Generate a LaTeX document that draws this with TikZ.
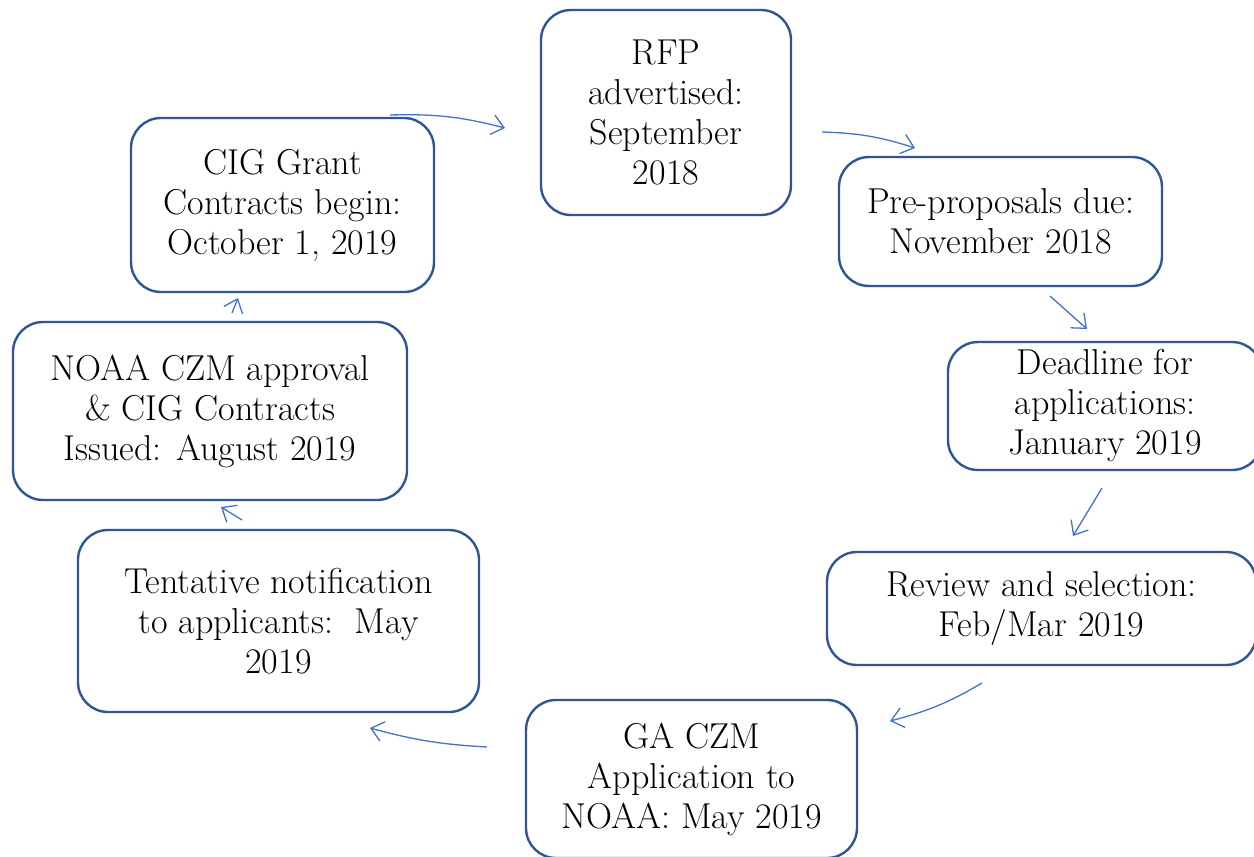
\documentclass[tikz,border=0pt]{standalone}
\usepackage{fontspec}
\usetikzlibrary{arrows.meta}
\definecolor{boxblue}{HTML}{2F5597}
\definecolor{arrblue}{HTML}{4472C4}
\tikzset{
  stagebox/.style={draw=boxblue, line width=2.4pt, rounded corners=30pt, align=center,
    font=\fontsize{36}{40}\selectfont, inner sep=0pt},
  flow/.style={draw=arrblue, line width=1.3pt, -{Straight Barb[length=12pt,width=20pt,line width=1.3pt]}}
}
\begin{document}
\begin{tikzpicture}[x=1pt,y=-1pt]
\useasboundingbox (0,0) rectangle (1254,857);
\node[stagebox, minimum width=250pt, minimum height=205pt] (rfp) at (666,112.5) {RFP\\advertised:\\September\\2018};
\node[stagebox, minimum width=323pt, minimum height=129pt] (pre) at (1000.5,221.5) {Pre-proposals due:\\November 2018};
\node[stagebox, minimum width=314pt, minimum height=128pt] (dead) at (1105,406) {Deadline for\\applications:\\January 2019};
\node[stagebox, minimum width=429pt, minimum height=113pt] (rev) at (1041.5,608.5) {Review and selection:\\Feb/Mar 2019};
\node[stagebox, minimum width=331pt, minimum height=158pt] (ga) at (691.5,779) {GA CZM\\Application to\\NOAA: May 2019};
\node[stagebox, minimum width=401pt, minimum height=182pt] (tent) at (278.5,621) {Tentative notification\\to applicants:\ \ May\\2019};
\node[stagebox, minimum width=394pt, minimum height=178pt] (noaa) at (210,411) {NOAA CZM approval\\\& CIG Contracts\\Issued: August 2019};
\node[stagebox, minimum width=303pt, minimum height=174pt] (cig) at (282.5,205) {CIG Grant\\Contracts begin:\\October 1, 2019};
\coordinate (a1s) at (390,115); \coordinate (a1e) at (505,128);
\coordinate (a2s) at (822,132); \coordinate (a2e) at (915,148);
\coordinate (a3s) at (1050,296); \coordinate (a3e) at (1087,329);
\coordinate (a4s) at (1102,488); \coordinate (a4e) at (1073,536);
\coordinate (a5s) at (982,683); \coordinate (a5e) at (890,721);
\coordinate (a6s) at (487,747); \coordinate (a6e) at (370,728);
\coordinate (a7s) at (242,520); \coordinate (a7e) at (221,507);
\coordinate (a8s) at (232,313); \coordinate (a8e) at (238,298);
\draw[flow] (a1s) to[bend left=8] (a1e);
\draw[flow] (a2s) to[bend left=8] (a2e);
\draw[flow] (a3s) -- (a3e);
\draw[flow] (a4s) -- (a4e);
\draw[flow] (a5s) to[bend left=8] (a5e);
\draw[flow] (a6s) to[bend left=6] (a6e);
\draw[flow] (a7s) -- (a7e);
\draw[flow] (a8s) -- (a8e);
\end{tikzpicture}
\end{document}
